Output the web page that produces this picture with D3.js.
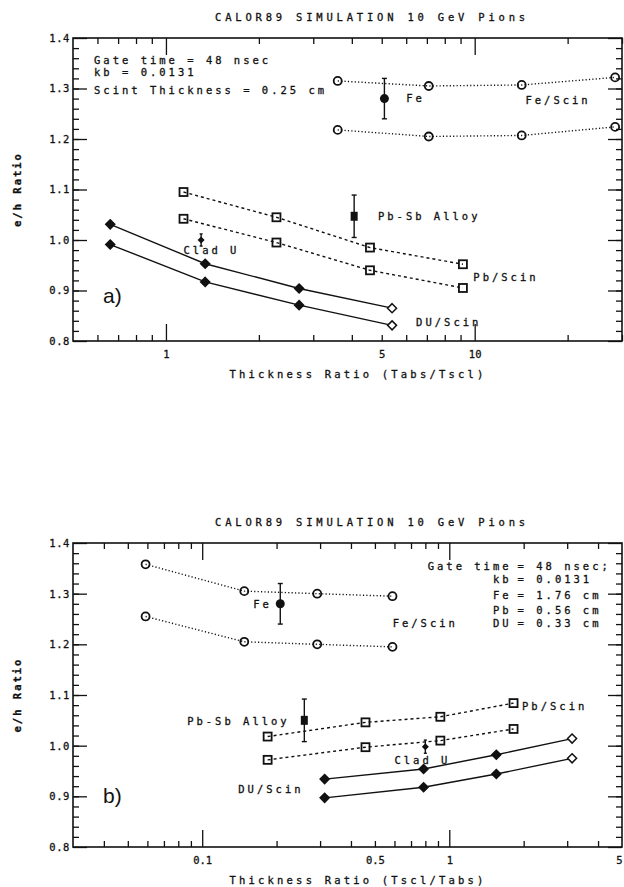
<!DOCTYPE html>
<html>
<head>
<meta charset="utf-8">
<script src="https://cdn.jsdelivr.net/npm/d3@7"></script>
<style>
  body { margin: 0; background: #fff; }
  svg { display: block; }
  text { font-family: "DejaVu Sans Mono", monospace; fill: #111; stroke: #111; stroke-width: 0.3; }
</style>
</head>
<body>
<div id="chart"></div>
<script>
// ---- Panel a) : x = Tabs/Tscl ----
const feScinAX  = [3.6, 7.1, 14.2, 28.5];
const feScinAHi = [1.315, 1.305, 1.307, 1.322];
const feScinALo = [1.218, 1.205, 1.207, 1.224];
const pbScinAX  = [1.14, 2.28, 4.58, 9.16];
const pbScinAHi = [1.095, 1.045, 0.985, 0.952];
const pbScinALo = [1.042, 0.995, 0.940, 0.905];
const duScinAX  = [0.66, 1.34, 2.7, 5.4];
const duScinAHi = [1.031, 0.953, 0.904, 0.865];
const duScinALo = [0.991, 0.917, 0.871, 0.831];
// measured points: [x, y, error]
const feMeasA   = [5.1, 1.28, 0.04];
const pbsbMeasA = [4.07, 1.047, 0.042];
const cladMeasA = [1.3, 1.0, 0.012];

// ---- Panel b) : x = Tscl/Tabs ----
const feScinBX  = [0.059, 0.148, 0.292, 0.589];
const feScinBHi = [1.358, 1.305, 1.300, 1.295];
const feScinBLo = [1.255, 1.205, 1.200, 1.195];
const pbScinBX  = [0.184, 0.458, 0.92, 1.82];
const pbScinBHi = [1.018, 1.046, 1.057, 1.084];
const pbScinBLo = [0.972, 0.997, 1.010, 1.033];
const duScinBX  = [0.313, 0.787, 1.55, 3.14];
const duScinBHi = [0.934, 0.954, 0.982, 1.014];
const duScinBLo = [0.897, 0.918, 0.944, 0.975];
const feMeasB   = [0.207, 1.28, 0.04];
const pbsbMeasB = [0.259, 1.05, 0.042];
const cladMeasB = [0.8, 0.998, 0.013];

// ---- axes ----
const yMajor = [0.8, 0.9, 1.0, 1.1, 1.2, 1.3, 1.4];
const xLabelsA = [1, 5, 10];
const xLabelsB = [0.1, 0.5, 1, 5];
const titleText = "CALOR89 SIMULATION 10 GeV Pions";

// ---- text annotations (data coordinates) ----
const notesA = [
  ["Gate time = 48 nsec", 0.585, 1.355],
  ["kb = 0.0131", 0.585, 1.332],
  ["Scint Thickness = 0.25 cm", 0.585, 1.297],
  ["Fe", 6.0, 1.28],
  ["Fe/Scin", 14.6, 1.277],
  ["Pb-Sb Alloy", 4.86, 1.047],
  ["Pb/Scin", 9.9, 0.927],
  ["DU/Scin", 6.46, 0.836],
  ["Clad U", 1.14, 0.98]
];
const notesB = [
  ["Fe", 0.161, 1.278],
  ["Fe/Scin", 0.59, 1.242],
  ["Pb-Sb Alloy", 0.0869, 1.049],
  ["Pb/Scin", 1.97, 1.077],
  ["DU/Scin", 0.14, 0.913],
  ["Clad U", 0.6, 0.972]
];
// settings block of panel b, aligned on "=" (key, value, y)
const settingsB = [
  ["Gate time", "= 48 nsec;", 1.353],
  ["kb", "= 0.0131", 1.329],
  ["Fe", "= 1.76 cm", 1.297],
  ["Pb", "= 0.56 cm", 1.268],
  ["DU", "= 0.33 cm", 1.242]
];
const settingsBEqX = 1.89;

const width = 624, height = 887;
const left = 73, right = 622;

const svg = d3.select("#chart").append("svg")
  .attr("width", width)
  .attr("height", height);

const zip = (xs, ys) => xs.map((d, i) => [d, ys[i]]);

const panels = [
  {
    top: 38, bottom: 341, xDomain: [0.5, 30],
    xMinor: [0.6, 0.7, 0.8, 0.9, 2, 3, 4, 5, 6, 7, 8, 9, 20, 30],
    xTall: [1, 10], xLabels: xLabelsA,
    xTitle: "Thickness Ratio (Tabs/Tscl)", tag: "a)", tagY: 0.875,
    fe: [zip(feScinAX, feScinAHi), zip(feScinAX, feScinALo)],
    pb: [zip(pbScinAX, pbScinAHi), zip(pbScinAX, pbScinALo)],
    du: [zip(duScinAX, duScinAHi), zip(duScinAX, duScinALo)],
    feMeas: feMeasA, pbsbMeas: pbsbMeasA, cladMeas: cladMeasA,
    notes: notesA, settings: []
  },
  {
    top: 543, bottom: 847, xDomain: [0.03, 5],
    xMinor: [0.04, 0.05, 0.06, 0.07, 0.08, 0.09, 0.2, 0.3, 0.4, 0.5, 0.6, 0.7, 0.8, 0.9, 2, 3, 4],
    xTall: [0.1, 1], xLabels: xLabelsB,
    xTitle: "Thickness Ratio (Tscl/Tabs)", tag: "b)", tagY: 0.887,
    fe: [zip(feScinBX, feScinBHi), zip(feScinBX, feScinBLo)],
    pb: [zip(pbScinBX, pbScinBHi), zip(pbScinBX, pbScinBLo)],
    du: [zip(duScinBX, duScinBHi), zip(duScinBX, duScinBLo)],
    feMeas: feMeasB, pbsbMeas: pbsbMeasB, cladMeas: cladMeasB,
    notes: notesB, settings: settingsB
  }
];

const ink = "#111";

function strip(sel) {
  sel.select(".domain").remove();
  sel.selectAll("line").attr("stroke", ink).attr("stroke-width", 1.3);
}

function drawPanel(p) {
  const g = svg.append("g");
  const x = d3.scaleLog().domain(p.xDomain).range([left, right]);
  const y = d3.scaleLinear().domain([0.8, 1.4]).range([p.bottom, p.top]);
  const yMinor = d3.range(0.82, 1.4, 0.02).map(d => +d.toFixed(2));

  // left axis
  g.append("g").attr("transform", `translate(${left},0)`)
    .call(d3.axisLeft(y).tickValues(yMinor).tickSize(-6).tickFormat(""))
    .call(strip);
  g.append("g").attr("transform", `translate(${left},0)`)
    .call(d3.axisLeft(y).tickValues(yMajor).tickSize(-14).tickPadding(3).tickFormat(d3.format(".1f")))
    .call(strip)
    .selectAll("text")
      .attr("font-size", 10.5)
      .attr("letter-spacing", 0.6)
      .attr("fill", ink);

  // right axis
  g.append("g").attr("transform", `translate(${right},0)`)
    .call(d3.axisRight(y).tickValues(yMinor).tickSize(-6).tickFormat(""))
    .call(strip);
  g.append("g").attr("transform", `translate(${right},0)`)
    .call(d3.axisRight(y).tickValues(yMajor).tickSize(-14).tickFormat(""))
    .call(strip);

  // bottom and top axes
  [[d3.axisBottom, p.bottom], [d3.axisTop, p.top]].forEach(([ax, pos]) => {
    g.append("g").attr("transform", `translate(0,${pos})`)
      .call(ax(x).tickValues(p.xMinor).tickSize(-6).tickFormat(""))
      .call(strip);
    g.append("g").attr("transform", `translate(0,${pos})`)
      .call(ax(x).tickValues(p.xTall).tickSize(-17).tickFormat(""))
      .call(strip);
  });
  g.append("g").attr("transform", `translate(0,${p.bottom})`)
    .call(d3.axisBottom(x).tickValues(p.xLabels).tickSize(0).tickPadding(10).tickFormat(d => String(d)))
    .call(strip)
    .selectAll("text")
      .attr("font-size", 10.5)
      .attr("fill", ink)
      .attr("dx", d => x(d) > right - 4 ? -3 : 0);

  // frame
  g.append("rect")
    .attr("x", left).attr("y", p.top)
    .attr("width", right - left).attr("height", p.bottom - p.top)
    .attr("fill", "none").attr("stroke", ink).attr("stroke-width", 1.6);

  // titles
  g.append("text")
    .attr("x", 372).attr("y", p.top - 21).attr("dy", "0.35em")
    .attr("text-anchor", "middle")
    .attr("font-size", 10.5).attr("letter-spacing", 3.8)
    .text(titleText);
  g.append("text")
    .attr("x", 358).attr("y", p.bottom + 33).attr("dy", "0.35em")
    .attr("text-anchor", "middle")
    .attr("font-size", 10.5).attr("letter-spacing", 3.2)
    .text(p.xTitle);
  g.append("text")
    .attr("transform", `translate(17,${(p.top + p.bottom) / 2}) rotate(-90)`)
    .attr("dy", "0.35em")
    .attr("text-anchor", "middle")
    .attr("font-size", 10.5).attr("font-weight", "bold").attr("letter-spacing", 2)
    .text("e/h Ratio");

  const line = d3.line().x(d => x(d[0])).y(d => y(d[1]));

  // Fe/Scin: dotted with open circles
  p.fe.forEach(s => {
    g.append("path").datum(s).attr("d", line)
      .attr("fill", "none").attr("stroke", ink).attr("stroke-width", 1.4)
      .attr("stroke-dasharray", "1.2 2.2");
    g.selectAll(null).data(s).enter().append("circle")
      .attr("cx", d => x(d[0])).attr("cy", d => y(d[1])).attr("r", 4)
      .attr("fill", "none").attr("stroke", ink).attr("stroke-width", 1.8);
  });

  // Pb/Scin: dashed with open squares
  p.pb.forEach(s => {
    g.append("path").datum(s).attr("d", line)
      .attr("fill", "none").attr("stroke", ink).attr("stroke-width", 1.4)
      .attr("stroke-dasharray", "3 3");
    g.selectAll(null).data(s).enter().append("rect")
      .attr("x", d => x(d[0]) - 4).attr("y", d => y(d[1]) - 4)
      .attr("width", 8).attr("height", 8)
      .attr("fill", "none").attr("stroke", ink).attr("stroke-width", 1.8);
  });

  // DU/Scin: solid with diamonds
  const diamond = r => `M0,${-r}L${r},0L0,${r}L${-r},0Z`;
  p.du.forEach(s => {
    g.append("path").datum(s).attr("d", line)
      .attr("fill", "none").attr("stroke", ink).attr("stroke-width", 1.4);
    g.selectAll(null).data(s).enter().append("path")
      .attr("transform", d => `translate(${x(d[0])},${y(d[1])})`)
      .attr("d", diamond(4.5))
      .attr("fill", (d, i) => i === s.length - 1 ? "#fff" : ink)
      .attr("stroke", ink).attr("stroke-width", 1.5);
  });

  // measured points with error bars
  const errBar = (m, cap) => {
    const [mx, my, me] = m;
    g.append("line")
      .attr("x1", x(mx)).attr("x2", x(mx))
      .attr("y1", y(my - me)).attr("y2", y(my + me))
      .attr("stroke", ink).attr("stroke-width", 1.4);
    [my - me, my + me].forEach(v => g.append("line")
      .attr("x1", x(mx) - cap).attr("x2", x(mx) + cap)
      .attr("y1", y(v)).attr("y2", y(v))
      .attr("stroke", ink).attr("stroke-width", 1.4));
  };
  errBar(p.feMeas, 2.5);
  g.append("circle")
    .attr("cx", x(p.feMeas[0])).attr("cy", y(p.feMeas[1])).attr("r", 4.5)
    .attr("fill", ink);
  errBar(p.pbsbMeas, 2.5);
  g.append("rect")
    .attr("x", x(p.pbsbMeas[0]) - 3.5).attr("y", y(p.pbsbMeas[1]) - 4.5)
    .attr("width", 7).attr("height", 9)
    .attr("fill", ink);
  errBar(p.cladMeas, 1.5);
  g.append("path")
    .attr("transform", `translate(${x(p.cladMeas[0])},${y(p.cladMeas[1])})`)
    .attr("d", diamond(3.5))
    .attr("fill", ink);

  // annotations
  g.selectAll(null).data(p.notes).enter().append("text")
    .attr("x", d => x(d[1])).attr("y", d => y(d[2])).attr("dy", "0.35em")
    .attr("font-size", 10.5).attr("letter-spacing", 3)
    .text(d => d[0]);

  // settings block aligned on "="
  const eqX = x(settingsBEqX);
  g.selectAll(null).data(p.settings).enter().append("text")
    .attr("x", eqX - 6).attr("y", d => y(d[2])).attr("dy", "0.35em")
    .attr("text-anchor", "end")
    .attr("font-size", 10.5).attr("letter-spacing", 3)
    .text(d => d[0]);
  g.selectAll(null).data(p.settings).enter().append("text")
    .attr("x", eqX).attr("y", d => y(d[2])).attr("dy", "0.35em")
    .attr("font-size", 10.5).attr("letter-spacing", 3)
    .text(d => d[1]);

  // panel tag
  g.append("text")
    .attr("x", left + 30).attr("y", y(p.tagY))
    .style("font-family", "'Liberation Sans', Arial, sans-serif")
    .style("stroke-width", 0)
    .attr("font-size", 21)
    .text(p.tag);
}

panels.forEach(drawPanel);
</script>
</body>
</html>
